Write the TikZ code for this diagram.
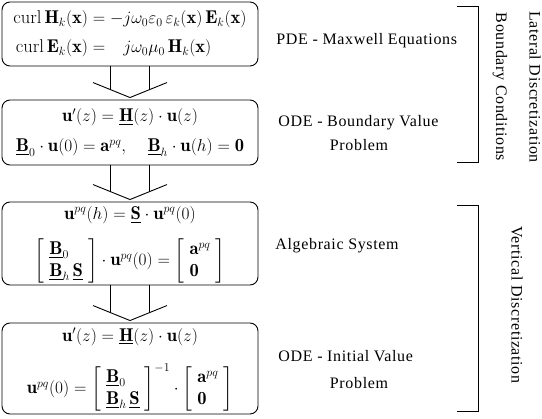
\documentclass[tikz,border=0pt]{standalone}
\usepackage{amsmath}
\usepackage{amssymb}
\usepackage{fontspec}
\usepackage{tikz}
\newfontfamily\labelfont[LetterSpace=4]{Liberation Serif}
\newcommand{\ulmat}[1]{\underline{\mathbf{#1}}}
\newcommand{\vecu}{\mathbf{u}}
\newcommand{\vecx}{\mathbf{x}}
\newcommand{\apq}{\mathbf{a}^{pq}}
\newcommand{\upq}{\mathbf{u}^{pq}}
\newcommand{\bcmat}{\left[\begin{array}{l}\ulmat{B}_0\\ \ulmat{B}_h\,\ulmat{S}\end{array}\right]}
\newcommand{\rhsvec}{\left[\begin{array}{l}\apq\\ \mathbf{0}\end{array}\right]}
\newcommand{\hollowarrow}[2]{%
  \draw ([xshift=-19.5pt]#1.south) -- ([xshift=-19.5pt,yshift=9.9pt]#2.north);
  \draw ([xshift=19.5pt]#1.south) -- ([xshift=19.5pt,yshift=9.9pt]#2.north);
  \draw ([xshift=-37pt,yshift=17pt]#2.north) -- ([yshift=2pt]#2.north)
        -- ([xshift=37pt,yshift=17pt]#2.north);}

\begin{document}
\begin{tikzpicture}[x=1pt,y=-1pt,line width=0.9pt,
  eqbox/.style={draw,rounded corners=8pt,minimum width=256pt,inner sep=0pt,
                font=\fontsize{18.5}{22}\selectfont},
  stagelabel/.style={font=\labelfont\fontsize{16}{19}\selectfont,inner sep=0pt},
  sidelabel/.style={font=\labelfont\fontsize{16}{19}\selectfont,inner sep=0pt,rotate=-90}]
\useasboundingbox (0,0) rectangle (542,419);

\node[eqbox,minimum height=64pt] (maxwell) at (130,34)
  {$\begin{aligned}
     \mathrm{curl}\,\mathbf{H}_k(\vecx) &= -j\omega_0\varepsilon_0\,\varepsilon_k(\vecx)\,\mathbf{E}_k(\vecx)\\[4pt]
     \mathrm{curl}\,\mathbf{E}_k(\vecx) &= \phantom{-}j\omega_0\mu_0\,\mathbf{H}_k(\vecx)
   \end{aligned}$};
\node[eqbox,minimum height=65pt] (bvp) at (130,132.5)
  {$\begin{array}{c}
     \vecu'(z) = \ulmat{H}(z)\cdot\vecu(z)\\[8pt]
     \ulmat{B}_0\cdot\vecu(0) = \apq,\quad \ulmat{B}_h\cdot\vecu(h) = \mathbf{0}
   \end{array}$};
\node[eqbox,minimum height=83pt] (algebraic) at (130,243.5)
  {$\begin{array}{c}
     \upq(h) = \ulmat{S}\cdot\upq(0)\\[13pt]
     \bcmat\cdot\upq(0) = \rhsvec
   \end{array}$};
\node[eqbox,minimum height=91pt] (ivp) at (130,368.5)
  {$\begin{array}{c}
     \vecu'(z) = \ulmat{H}(z)\cdot\vecu(z)\\[16pt]
     \upq(0) = \bcmat^{-1}\cdot\rhsvec
   \end{array}$};

\hollowarrow{maxwell}{bvp}
\hollowarrow{bvp}{algebraic}
\hollowarrow{algebraic}{ivp}

\node[stagelabel,anchor=base west] (pdeLabel) at (276,45) {PDE - Maxwell Equations};
\node[stagelabel,anchor=base west] (odeBvpLabel) at (278,127) {ODE - Boundary Value};
\node[stagelabel,anchor=base] (bvpProblem) at (359,151) {Problem};
\node[stagelabel,anchor=base west] (algLabel) at (275,250) {Algebraic System};
\node[stagelabel,anchor=base west] (odeIvpLabel) at (278,362) {ODE - Initial Value};
\node[stagelabel,anchor=base] (ivpProblem) at (359,389) {Problem};

\draw (457,6) -- (478,6) -- (478,162) -- (457,162);
\draw (457,205) -- (478,205) -- (478,411) -- (457,411);

\node[sidelabel] (boundaryCond) at (500,87) {Boundary Conditions};
\node[sidelabel] (lateralDisc) at (535,87) {Lateral Discretization};
\node[sidelabel] (verticalDisc) at (517,305) {Vertical Discretization};

\end{tikzpicture}
\end{document}
